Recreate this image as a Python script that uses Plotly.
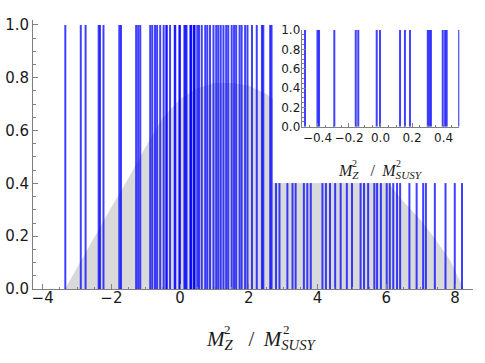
import plotly.graph_objects as go

# positions of the vertical lines (M_Z^2 / M_SUSY^2 values)
line_x = [
    -3.34, -2.89, -2.75, -2.37, -2.33, -2.23, -1.77, -1.72, -1.28, -1.22, -1.16,
    -0.87, -0.81, -0.73, -0.67, -0.58,
    -0.479, -0.40, -0.39, -0.293, -0.157, -0.141, -0.024, -0.003, 0.124, 0.155,
    0.187, 0.30, 0.31, 0.32, 0.395, 0.41, 0.42, 0.499,
    0.55, 0.63, 0.73, 0.79, 0.87, 0.97, 1.05, 1.11, 1.18, 1.26, 1.34, 1.40,
    1.50, 1.57, 1.63, 1.73, 1.79, 1.89, 1.96, 2.09, 2.23, 2.38, 2.42, 2.62,
    2.66, 2.79, 2.89, 3.12, 3.27, 3.36, 3.60, 3.70, 3.80, 4.14, 4.24, 4.36,
    4.51, 4.67, 4.85, 5.00, 5.25, 5.35, 5.47, 5.65, 5.73, 5.84, 6.01, 6.10,
    6.20, 6.31, 6.40, 6.67, 6.88, 7.07, 7.15, 7.41, 7.72, 7.99, 8.20,
]
line_height = 1.0

# grey background distribution
dist_x = [-3.35, -3.0, -2.5, -2.0, -1.5, -1.0, -0.5, 0.0, 0.5, 1.0, 1.5, 2.0,
          2.5, 3.0, 4.0, 5.0, 6.0, 6.5, 7.0, 7.3, 7.85, 8.25]
dist_y = [0.0, 0.08, 0.2, 0.31, 0.42, 0.54, 0.65, 0.72, 0.76, 0.78, 0.78, 0.77,
          0.74, 0.69, 0.58, 0.49, 0.41, 0.33, 0.26, 0.21, 0.11, 0.0]

main_xticks = [-4, -2, 0, 2, 4, 6, 8]
inset_xticks = [-0.4, -0.2, 0.0, 0.2, 0.4]

W, H = 485, 363
BLUE = "rgba(0,0,255,0.75)"
AXIS = "#808080"
TXT = "#1a1a1a"
SANS = "DejaVu Sans"
SERIF = "Liberation Serif"


def px_x(p):
    return p / W


def px_y(p):
    return (H - p) / H


def spikes(xs, h):
    xx, yy = [], []
    for v in xs:
        xx += [v, v, None]
        yy += [0, h, None]
    return xx, yy


sx, sy = spikes(line_x, line_height)

fig = go.Figure()
# main panel
fig.add_trace(go.Scatter(x=dist_x, y=dist_y, mode="lines", fill="tozeroy",
                         fillcolor="#d9d9d9", line=dict(width=0, color="#d9d9d9"),
                         xaxis="x", yaxis="y", hoverinfo="skip"))
fig.add_trace(go.Scatter(x=sx, y=sy, mode="lines", line=dict(color=BLUE, width=2),
                         xaxis="x", yaxis="y"))
# white backing box for the inset
fig.add_trace(go.Scatter(x=[0, 1, 1, 0, 0], y=[0, 0, 1, 1, 0], mode="lines",
                         fill="toself", fillcolor="white", line=dict(width=0, color="white"),
                         xaxis="x2", yaxis="y2", hoverinfo="skip"))
# inset
fig.add_trace(go.Scatter(x=sx, y=sy, mode="lines", line=dict(color=BLUE, width=2),
                         xaxis="x3", yaxis="y3"))

tick_common = dict(showline=True, linecolor=AXIS, linewidth=1, ticks="inside",
                   tickcolor=AXIS, showgrid=False, zeroline=False, automargin=False,
                   tickangle=0)

fig.update_layout(
    width=W, height=H,
    margin=dict(l=0, r=0, t=0, b=0, pad=0),
    plot_bgcolor="rgba(0,0,0,0)", paper_bgcolor="white",
    showlegend=False,
    xaxis=dict(domain=[px_x(33), px_x(473)], range=[-4.28, 8.52], anchor="y",
               tickvals=main_xticks, ticklen=5, ticklabelstandoff=-5,
               minor=dict(ticks="inside", dtick=0.5, ticklen=2.5, tickcolor=AXIS),
               tickfont=dict(family=SANS, size=15, color=TXT),
               **tick_common),
    yaxis=dict(domain=[px_y(289), px_y(19.7)], range=[0, 1.02], anchor="x",
               dtick=0.2, tickformat=".1f", ticklen=5,
               minor=dict(ticks="inside", dtick=0.05, ticklen=2.5, tickcolor=AXIS),
               tickfont=dict(family=SANS, size=15, color=TXT),
               **tick_common),
    xaxis2=dict(domain=[px_x(273), 1.0], range=[0, 1], visible=False, anchor="y2",
                automargin=False),
    yaxis2=dict(domain=[px_y(183.3), 1.0], range=[0, 1], visible=False, anchor="x2",
                automargin=False),
    xaxis3=dict(domain=[px_x(301.7), px_x(459.3)], range=[-0.5, 0.5], anchor="y3",
                tickvals=inset_xticks, tickformat=".1f", ticklen=4,
                minor=dict(ticks="inside", dtick=0.05, ticklen=2, tickcolor=AXIS),
                tickfont=dict(family=SANS, size=12, color=TXT),
                **tick_common),
    yaxis3=dict(domain=[px_y(126.7), px_y(29.5)], range=[0, 1.005], anchor="x3",
                dtick=0.2, tickformat=".1f", ticklen=4, ticklabelstandoff=-2,
                minor=dict(ticks="inside", dtick=0.05, ticklen=2, tickcolor=AXIS),
                tickfont=dict(family=SANS, size=12, color=TXT),
                **tick_common),
)

# axis labels: M^2_Z / M^2_SUSY with stacked super/subscripts
main_lbl = "<i>M</i><sub><i>Z</i></sub>   / \u2009<i>M</i><sub><i>SUSY</i></sub>"
fig.add_annotation(text=main_lbl, x=px_x(204), y=px_y(340), xref="paper", yref="paper",
                   xanchor="left", yanchor="middle", showarrow=False,
                   font=dict(family=SERIF, size=21, color=TXT))
for xp in [222, 281]:
    fig.add_annotation(text="2", x=px_x(xp), y=px_y(329), xref="paper", yref="paper",
                       xanchor="left", yanchor="middle", showarrow=False,
                       font=dict(family=SERIF, size=13, color=TXT))

fig.add_annotation(text=main_lbl, x=px_x(336), y=px_y(171), xref="paper", yref="paper",
                   xanchor="left", yanchor="middle", showarrow=False,
                   font=dict(family=SERIF, size=16, color=TXT))
for xp in [350, 394]:
    fig.add_annotation(text="2", x=px_x(xp), y=px_y(163), xref="paper", yref="paper",
                       xanchor="left", yanchor="middle", showarrow=False,
                       font=dict(family=SERIF, size=10, color=TXT))

# the page body has a default 8px margin; drop it so the figure sits at the window corner
fig.write_html("out.html", config={"displayModeBar": False},
               post_script="document.body.style.margin='0';")
